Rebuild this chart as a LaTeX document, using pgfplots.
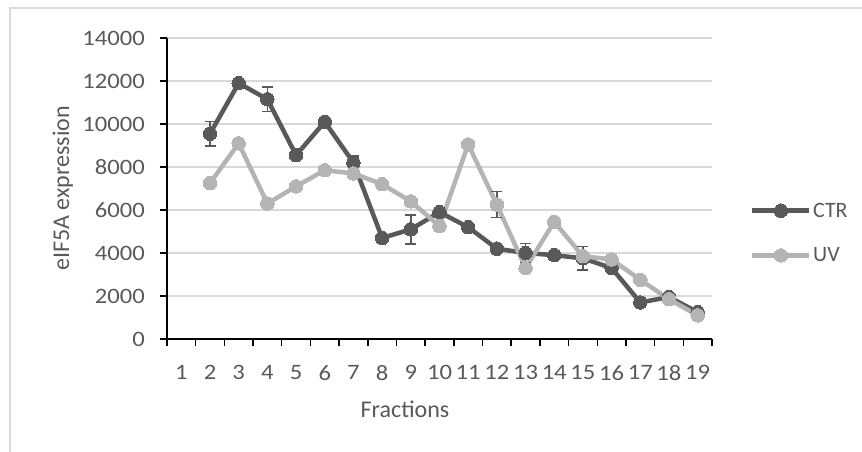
\documentclass[border=0pt]{standalone}
\usepackage{fontspec}
\setmainfont{Carlito}
\newfontfamily\tickfont[FakeStretch=1.12]{Carlito}
\usepackage{pgfplots}
\usepackage{pgfplotstable}
\usetikzlibrary{arrows.meta}
\pgfplotsset{compat=1.18}
\definecolor{ctr}{HTML}{595959}
\definecolor{uv}{HTML}{B4B4B4}
\definecolor{txt}{HTML}{595959}
\definecolor{grd}{HTML}{D9D9D9}
\definecolor{brd}{HTML}{D9D9D9}

\pgfplotstableread{
x y
2 9550
3 11900
4 11150
5 8550
6 10100
7 8200
8 4700
9 5100
10 5900
11 5200
12 4200
13 4000
14 3900
15 3750
16 3300
17 1700
18 1950
19 1250
}\ctrdata

\pgfplotstableread{
x y
2 7250
3 9100
4 6300
5 7100
6 7850
7 7700
8 7200
9 6400
10 5250
11 9050
12 6250
13 3300
14 5450
15 3850
16 3700
17 2750
18 1850
19 1100
}\uvdata

\pgfplotstableread{
x y ep em
2 9550 600 600
4 11150 600 600
7 8200 350 750
9 5100 700 720
12 6250 640 640
13 4000 480 480
15 3750 580 580
}\errdata

\begin{document}
\begin{tikzpicture}
\useasboundingbox (-167bp,-113bp) rectangle (695bp,339bp);
\draw[brd, line width=1.5bp] (-157bp,-113bp) -- (-157bp,331bp) -- (695bp,331bp);
\begin{axis}[
  at={(0,0)}, anchor=south west,
  scale only axis, width=545bp, height=301bp,
  xmin=0.5, xmax=19.5, ymin=0, ymax=14000,
  axis x line=bottom, axis y line=left,
  axis line style={-, line width=1.5bp, black},
  tick align=outside,
  xtick={1,...,19},
  major x tick style={draw=none},
  minor xtick={0.5,1.5,...,19.5},
  minor x tick style={line width=1.5bp, black},
  minor tick length=7bp,
  ytick={0,2000,...,14000},
  scaled y ticks=false,
  major y tick style={line width=1.5bp, black},
  major tick length=7bp,
  ymajorgrids=true,
  grid style={grd, line width=1.5bp},
  /pgf/number format/.cd, 1000 sep={}, assume math mode=true,
  /pgfplots/.cd,
  ticklabel style={font=\tickfont\fontsize{22bp}{26bp}\selectfont, text=txt},
  yticklabel style={anchor=east, inner sep=0pt, xshift=-15bp},
  xticklabel style={anchor=north, inner sep=0pt, yshift=-19bp},
  xlabel={Fractions},
  ylabel={eIF5A expression},
  label style={font=\fontsize{24bp}{28bp}\selectfont, text=txt},
  xlabel style={at={(axis description cs:0.4367,-0.2615)}, anchor=base, inner sep=0pt},
  ylabel style={at={(axis description cs:-0.191,0.5)}, anchor=center, rotate=0, inner sep=0pt},
  legend style={at={(rel axis cs:1.0697,0.352)}, anchor=west, draw=none, fill=none,
    font=\fontsize{22bp}{26bp}\selectfont, text=txt, row sep=26bp, inner sep=0pt,
    nodes={inner sep=1.5bp}},
  legend cell align=left,
  legend image code/.code={\draw[mark repeat=2,mark phase=2,#1] plot coordinates {(0bp,0bp) (28.5bp,0bp) (57bp,0bp)};},
]
\addplot[ctr, line width=4.5bp, line join=round, mark=*, mark size=6.75bp, mark options={ctr, fill=ctr, line width=0pt}] table[x=x, y=y] {\ctrdata};
\addlegendentry{CTR}
\addplot[uv, line width=4.5bp, line join=round, mark=*, mark size=6.75bp, mark options={uv, fill=uv, line width=0pt}] table[x=x, y=y] {\uvdata};
\addlegendentry{UV}
\addplot[ctr, draw=none, mark=none, forget plot,
  error bars/.cd, y dir=both, y explicit,
  error mark=none,
  error bar style={ctr, line width=1.5bp, {Bar[width=11bp]}-{Bar[width=11bp]}}]
  table[x=x, y=y, y error plus=ep, y error minus=em] {\errdata};
\end{axis}
\end{tikzpicture}
\end{document}
